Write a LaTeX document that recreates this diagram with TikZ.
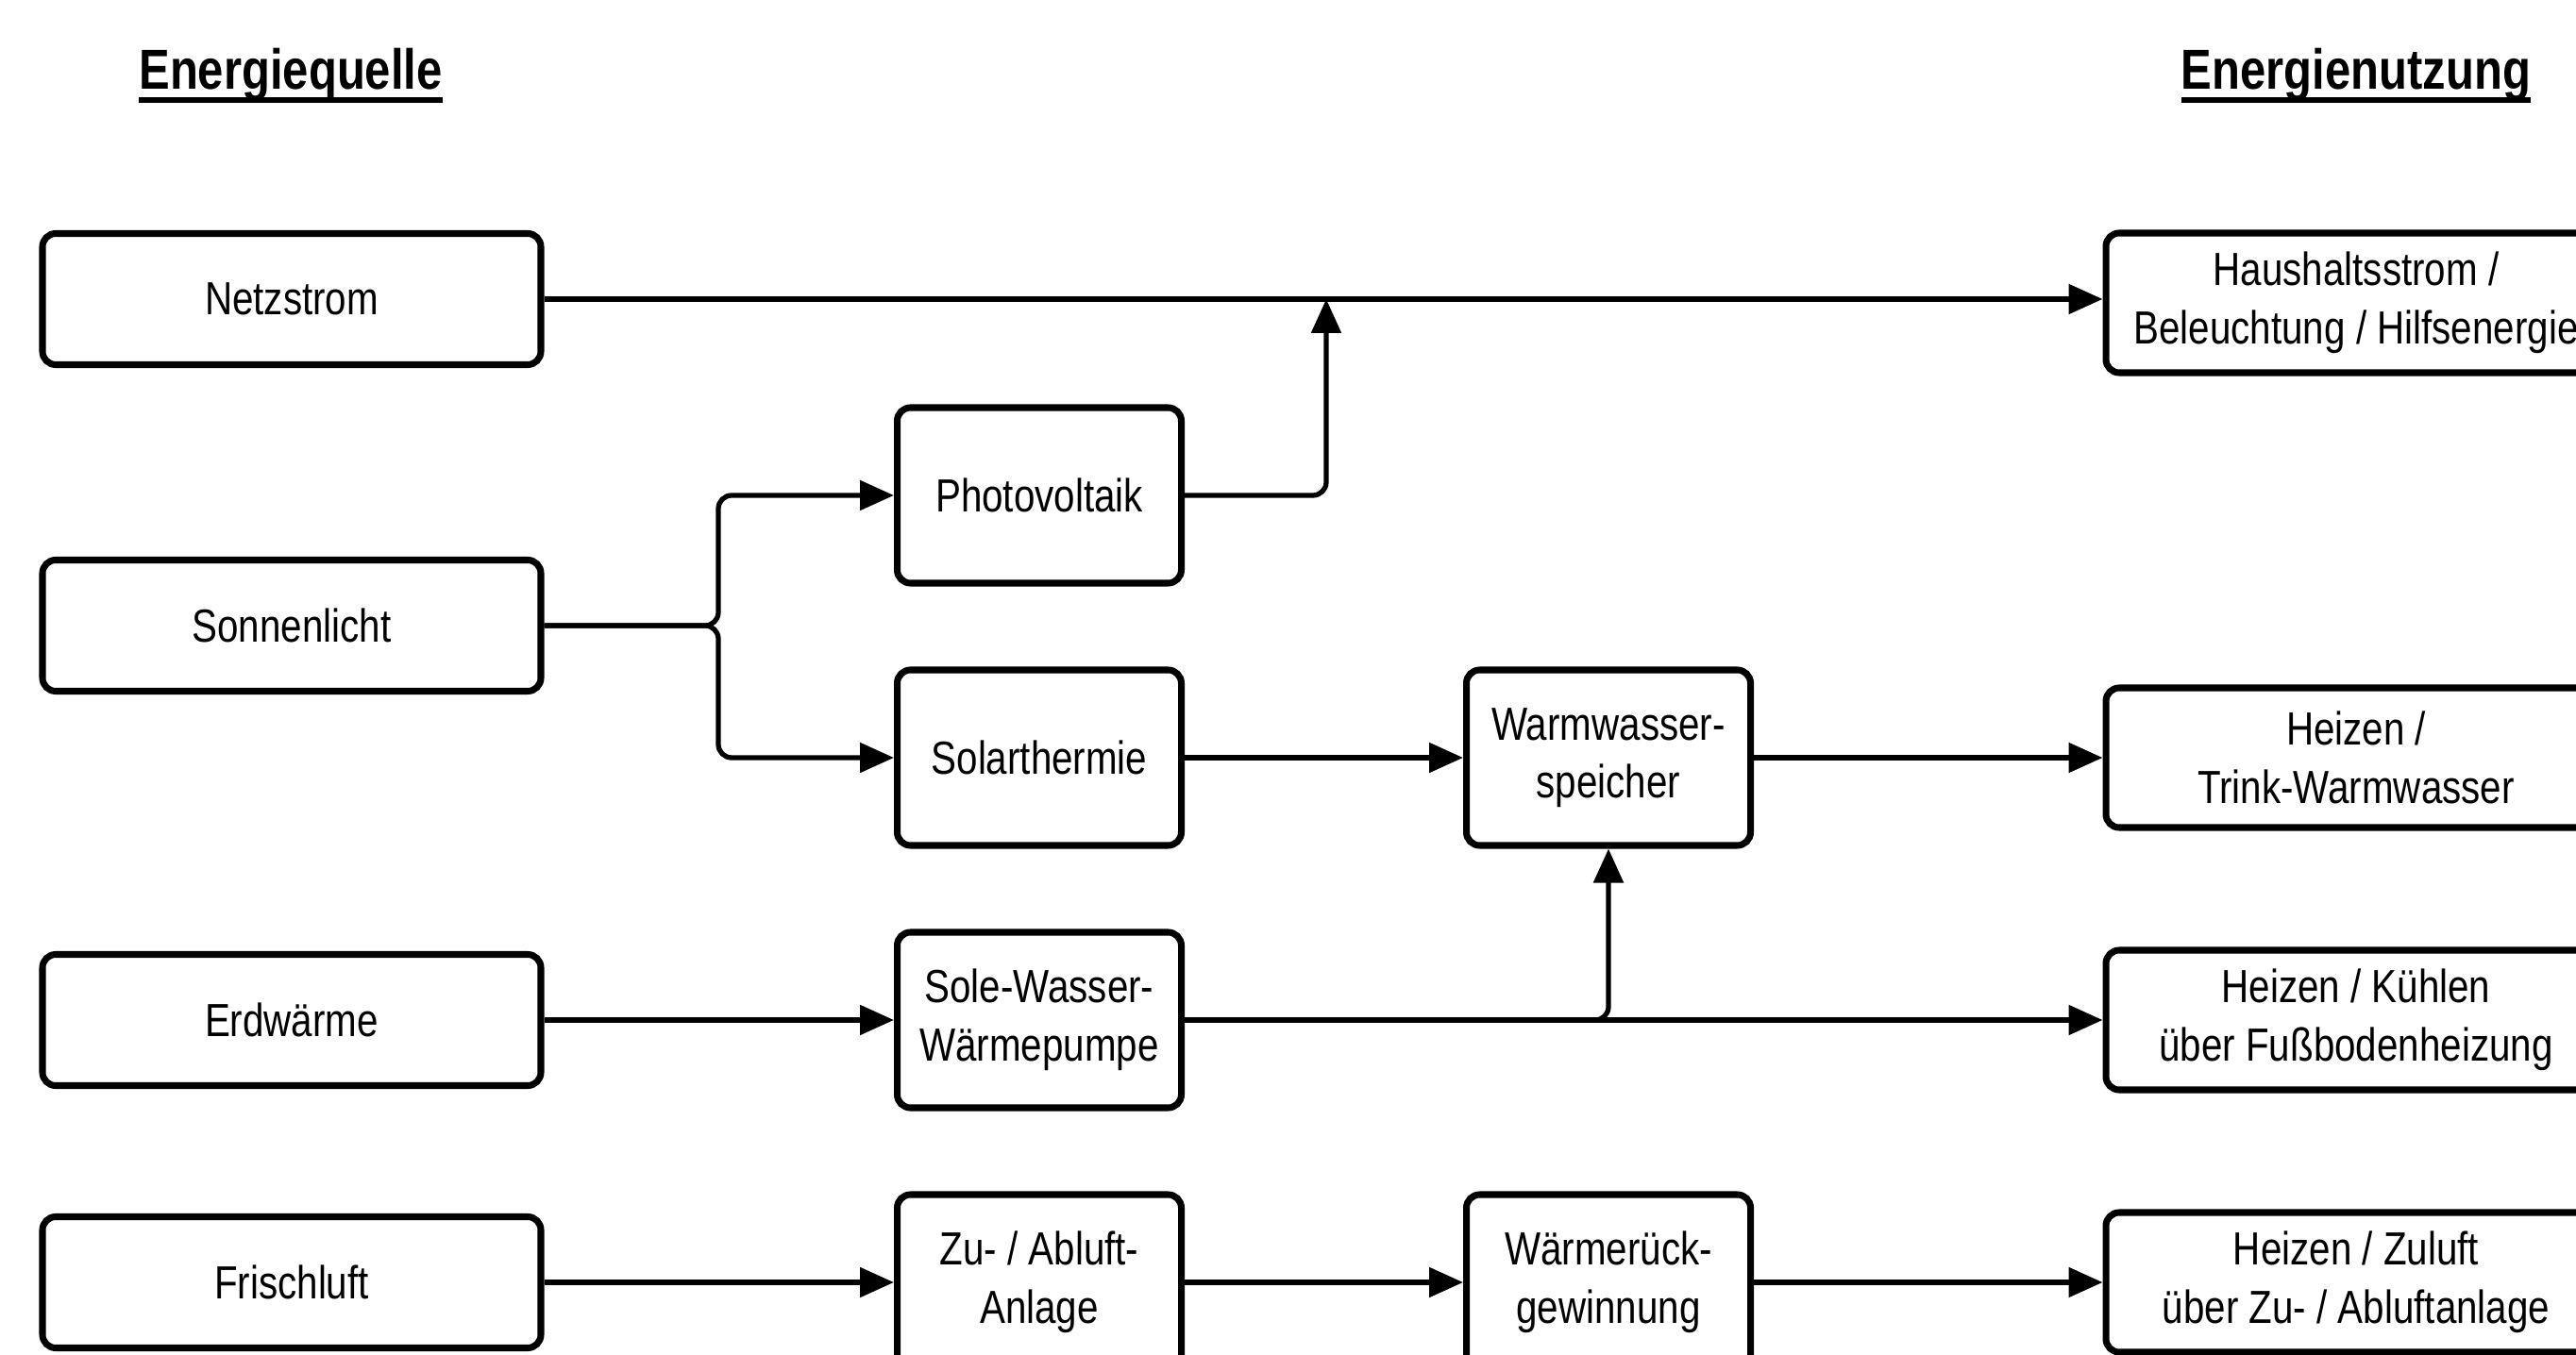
\documentclass[tikz,border=0pt]{standalone}
\usepackage{fontspec}
\setmainfont{Liberation Sans}[FakeStretch=0.82]
\usepackage{tikz}
\usetikzlibrary{arrows.meta, positioning}
\newcommand{\hdrline}[1]{\setbox0\hbox{#1}\leavevmode
  \rlap{\vrule width\wd0 height -2.4pt depth 4.1pt}\box0}
\tikzset{
    srcbox/.style={rectangle, rounded corners=4pt, draw=black, line width=2pt,
                   fill=white, minimum width=5.28cm, minimum height=1.39cm,
                   align=center, font=\fontsize{14pt}{17.5pt}\selectfont},
    techbox/.style={rectangle, rounded corners=4pt, draw=black, line width=2pt,
                   fill=white, minimum width=3.01cm, minimum height=1.86cm,
                   align=center, font=\fontsize{14pt}{17.5pt}\selectfont},
    usebox/.style={rectangle, rounded corners=4pt, draw=black, line width=2pt,
                   fill=white, minimum width=5.3cm, minimum height=1.48cm,
                   align=center, font=\fontsize{14pt}{17.5pt}\selectfont},
    hdr/.style={font=\fontsize{17pt}{20pt}\selectfont\bfseries},
    arr/.style={-{Triangle[length=3.6mm, width=3.1mm]}, line width=1.5pt,
                draw=black, rounded corners=4pt}
}

\begin{document}
\begin{tikzpicture}
\useasboundingbox (0,0) rectangle (27.29,-14.36);
\clip (0,0) rectangle (27.29,-14.36);

% ── Headings ──────────────────────────────────────────────────────────
\node[hdr] at (3.08, -0.80)  (hq) {\hdrline{Energiequelle}};
\node[hdr] at (24.96,-0.80)  (hn) {\hdrline{Energienutzung}};

% ── Energy sources ────────────────────────────────────────────────────
\node[srcbox] at (3.09, -3.17)  (netz)  {Netzstrom};
\node[srcbox] at (3.09, -6.63)  (sonne) {Sonnenlicht};
\node[srcbox] at (3.09, -10.81) (erde)  {Erdwärme};
\node[srcbox] at (3.09, -13.59) (luft)  {Frischluft};

% ── Conversion ────────────────────────────────────────────────────────
\node[techbox] at (11.01, -5.25)  (pv)   {Photovoltaik};
\node[techbox] at (11.01, -8.03)  (st)   {Solarthermie};
\node[techbox] at (11.01, -10.81) (wp)   {Sole-Wasser-\\Wärmepumpe};
\node[techbox] at (11.01, -13.59) (lueft){Zu- / Abluft-\\Anlage};

\node[techbox] at (17.04, -8.03)  (ws)   {Warmwasser-\\speicher};
\node[techbox] at (17.04, -13.59) (wrg)  {Wärmerück-\\gewinnung};

% ── Energy use ────────────────────────────────────────────────────────
\node[usebox] at (24.96, -3.21)  (haus)  {Haushaltsstrom /\\Beleuchtung / Hilfsenergie};
\node[usebox] at (24.96, -8.03)  (trink) {Heizen /\\Trink-Warmwasser};
\node[usebox] at (24.96, -10.81) (fbh)   {Heizen / Kühlen\\über Fußbodenheizung};
\node[usebox] at (24.96, -13.59) (zul)   {Heizen / Zuluft\\über Zu- / Abluftanlage};

% ── Junction points ───────────────────────────────────────────────────
\coordinate (split) at (7.61, -6.63);
\coordinate (pvin)  at (14.05,-3.17);

% ── Arrows ────────────────────────────────────────────────────────────
\draw[arr] (netz.east) -- (netz.east -| haus.west);
\draw[arr] (pv.east) -| (pvin);

\draw[arr] (sonne.east) -- (split) |- (pv.west);
\draw[arr] (sonne.east) -- (split) |- (st.west);

\draw[arr] (st.east) -- (ws.west);
\draw[arr] (ws.east) -- (trink.west);

\draw[arr] (erde.east) -- (wp.west);
\draw[arr] (wp.east) -- (fbh.west);
\draw[arr] (wp.east) -| (ws.south);

\draw[arr] (luft.east) -- (lueft.west);
\draw[arr] (lueft.east) -- (wrg.west);
\draw[arr] (wrg.east) -- (zul.west);
\end{tikzpicture}
\end{document}
